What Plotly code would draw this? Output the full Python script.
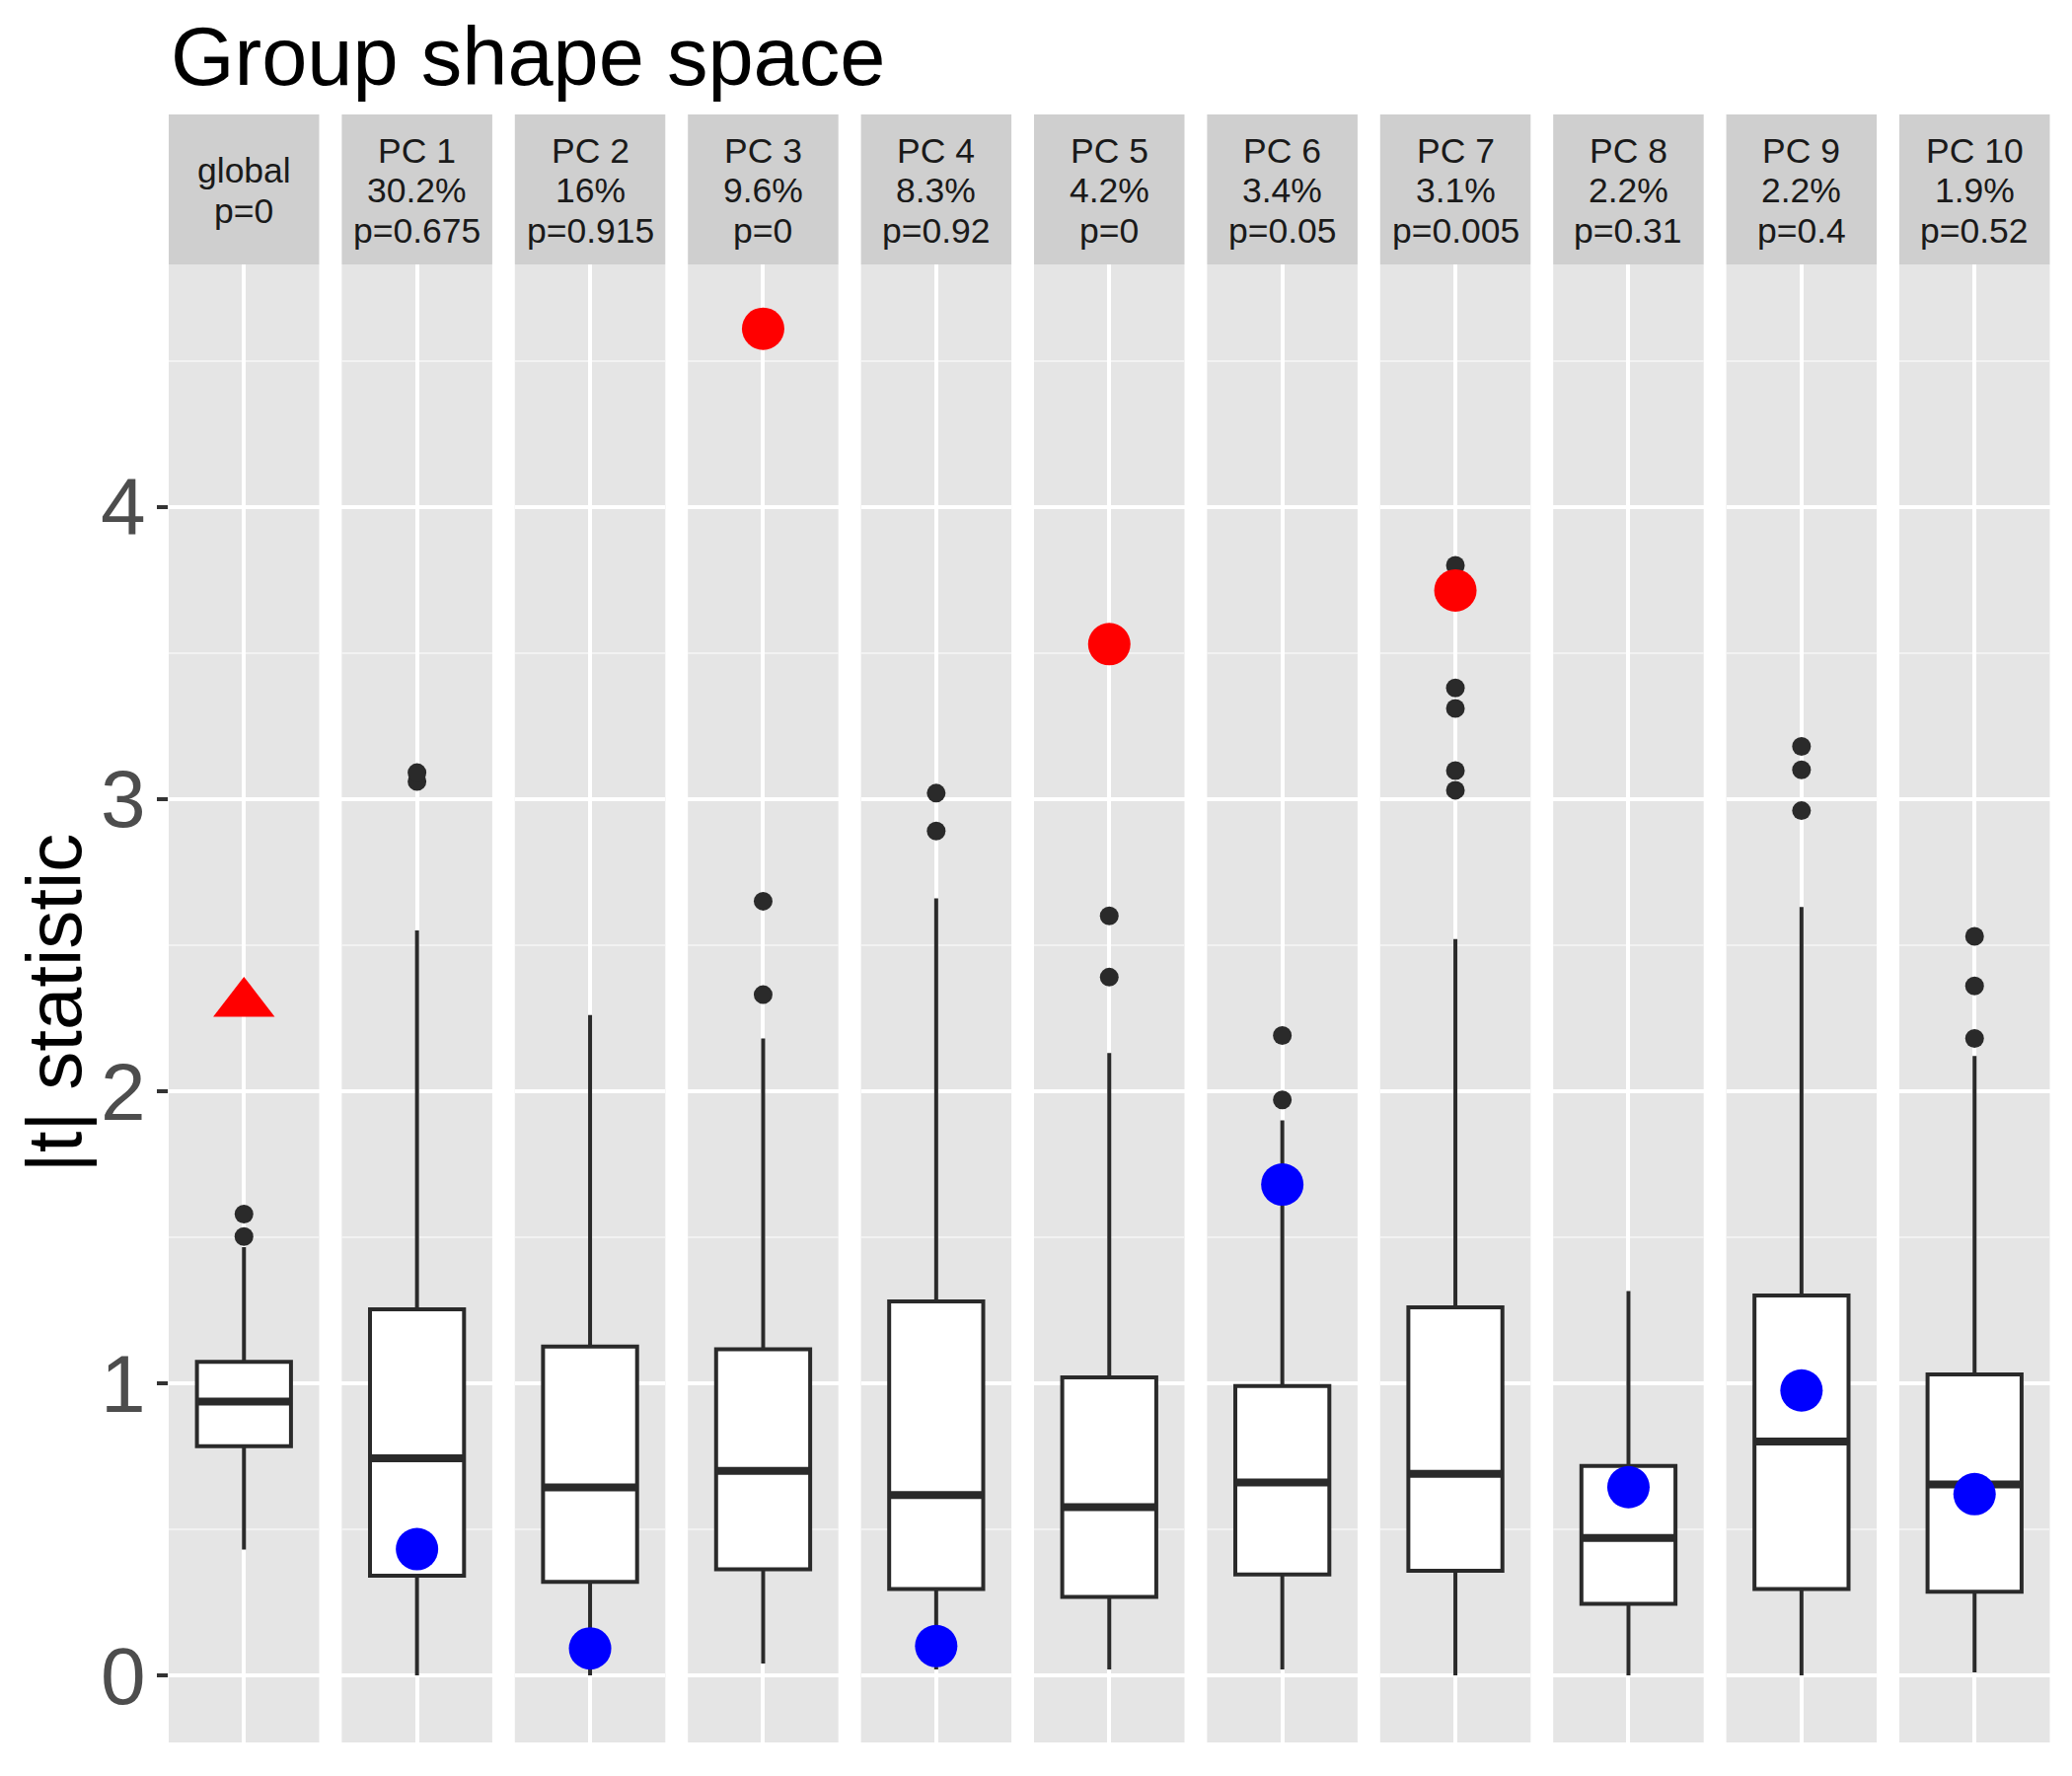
import plotly.graph_objects as go

# ---------------- data ----------------
panels = ["global", "PC 1", "PC 2", "PC 3", "PC 4", "PC 5", "PC 6", "PC 7", "PC 8", "PC 9", "PC 10"]
variance = ["", "30.2%", "16%", "9.6%", "8.3%", "4.2%", "3.4%", "3.1%", "2.2%", "2.2%", "1.9%"]
pvalues = ["p=0", "p=0.675", "p=0.915", "p=0", "p=0.92", "p=0", "p=0.05", "p=0.005", "p=0.31", "p=0.4", "p=0.52"]

q1 = [0.784, 0.341, 0.320, 0.363, 0.295, 0.268, 0.345, 0.358, 0.245, 0.295, 0.286]
median = [0.937, 0.743, 0.643, 0.700, 0.617, 0.576, 0.660, 0.690, 0.470, 0.800, 0.653]
q3 = [1.073, 1.253, 1.125, 1.116, 1.280, 1.020, 0.990, 1.260, 0.717, 1.300, 1.030]
lower_whisker = [0.43, 0.0, 0.0, 0.04, 0.02, 0.02, 0.02, 0.0, 0.0, 0.0, 0.01]
upper_whisker = [1.466, 2.55, 2.26, 2.18, 2.66, 2.13, 1.90, 2.52, 1.315, 2.63, 2.12]
outliers = [
    [1.502, 1.579],
    [3.06, 3.09],
    [],
    [2.33, 2.65],
    [2.89, 3.02],
    [2.39, 2.60],
    [1.97, 2.19],
    [3.03, 3.097, 3.31, 3.38, 3.80],
    [],
    [2.96, 3.10, 3.18],
    [2.18, 2.36, 2.53],
]
observed = [2.30, 0.432, 0.092, 4.61, 0.10, 3.53, 1.68, 3.714, 0.644, 0.975, 0.62]
observed_color = ["red", "blue", "blue", "red", "blue", "red", "blue", "red", "blue", "blue", "blue"]
observed_symbol = ["triangle-up"] + ["circle"] * 10

y_ticks = [0, 1, 2, 3, 4]
y_range = [-0.23, 4.83]

# ---------------- layout helpers ----------------
W, H = 2100, 1800
OFF = 8  # page body margin
FONT = "Liberation Sans, Arial, Helvetica, sans-serif"
DARK = "#2A2A2A"

def fx(p):
    return (p - OFF) / W

def fy(p):
    return 1 - (p - OFF) / H

left0, pitch, pw = 171.0, 175.4, 152.5
panel_top, panel_bottom = 268.0, 1766.0
strip_top = 116.0

fig = go.Figure()
layout = dict(
    width=W, height=H, autosize=False,
    margin=dict(l=0, r=0, t=0, b=0),
    paper_bgcolor="white", plot_bgcolor="#E5E5E5",
    showlegend=False,
    font=dict(family=FONT),
)
shapes, annotations = [], []

for i, name in enumerate(panels):
    xa = "x" if i == 0 else f"x{i+1}"
    ya = "y" if i == 0 else f"y{i+1}"
    xkey = "xaxis" if i == 0 else f"xaxis{i+1}"
    ykey = "yaxis" if i == 0 else f"yaxis{i+1}"
    l = left0 + i * pitch
    r = l + pw
    layout[xkey] = dict(
        domain=[fx(l), fx(r)], range=[0.4, 1.6], anchor=ya,
        tickvals=[1], showticklabels=False, ticks="",
        showgrid=True, gridcolor="white", gridwidth=3.5,
        zeroline=False, showline=False, fixedrange=True,
    )
    layout[ykey] = dict(
        domain=[fy(panel_bottom), fy(panel_top)], range=y_range, anchor=xa,
        tickvals=y_ticks, showticklabels=(i == 0),
        ticks="outside" if i == 0 else "", ticklen=11, tickwidth=4, tickcolor="#333333",
        tickfont=dict(size=82, color="#4D4D4D", family=FONT),
        ticklabelstandoff=-5,
        showgrid=True, gridcolor="white", gridwidth=3.5,
        minor=dict(dtick=0.5, tick0=0, showgrid=True, gridcolor="#F2F2F2", gridwidth=1.8, ticks=""),
        zeroline=False, showline=False, fixedrange=True,
    )

    # box
    fig.add_trace(go.Box(
        x=[1], q1=[q1[i]], median=[median[i]], q3=[q3[i]],
        lowerfence=[lower_whisker[i]], upperfence=[upper_whisker[i]],
        width=0.75, whiskerwidth=0, fillcolor="white",
        line=dict(color=DARK, width=4), boxpoints=False,
        xaxis=xa, yaxis=ya, hoverinfo="skip",
    ))
    # thick median (ggplot fatten)
    fig.add_trace(go.Scatter(
        x=[1 - 0.375, 1 + 0.375], y=[median[i], median[i]], mode="lines",
        line=dict(color=DARK, width=8), xaxis=xa, yaxis=ya, hoverinfo="skip",
    ))
    # outliers
    if outliers[i]:
        fig.add_trace(go.Scatter(
            x=[1] * len(outliers[i]), y=outliers[i], mode="markers",
            marker=dict(color=DARK, size=19, line=dict(width=0)),
            xaxis=xa, yaxis=ya, hoverinfo="skip",
        ))
    # observed statistic
    fig.add_trace(go.Scatter(
        x=[1], y=[observed[i]], mode="markers",
        marker=dict(color=observed_color[i], symbol=observed_symbol[i],
                    size=54 if observed_symbol[i] != "circle" else 43, line=dict(width=0)),
        xaxis=xa, yaxis=ya, hoverinfo="skip",
    ))

    # strip
    shapes.append(dict(type="rect", xref="paper", yref="paper",
                       x0=fx(l), x1=fx(r), y0=fy(panel_top), y1=fy(strip_top),
                       fillcolor="#CFCFCF", line=dict(width=0), layer="below"))
    lines = [name, pvalues[i]] if variance[i] == "" else [name, variance[i], pvalues[i]]
    baselines = [185.5, 226.0] if len(lines) == 2 else [165.0, 205.5, 246.0]
    fs = 35.5
    for txt, bl in zip(lines, baselines):
        annotations.append(dict(
            text=txt, xref="paper", yref="paper", x=fx((l + r) / 2), y=fy(bl - 0.3465 * fs),
            xanchor="center", yanchor="middle", showarrow=False,
            font=dict(size=fs, color="#1A1A1A", family=FONT),
        ))

# title
tfs = 83
annotations.append(dict(
    text="Group shape space", xref="paper", yref="paper",
    x=fx(171), y=fy(86 - 0.3465 * tfs), xanchor="left", yanchor="middle",
    showarrow=False, font=dict(size=tfs, color="black", family=FONT),
))
# y axis title
annotations.append(dict(
    text="|t| statistic", xref="paper", yref="paper",
    x=fx(54.6), y=fy((panel_top + panel_bottom) / 2), xanchor="center", yanchor="middle",
    textangle=-90, showarrow=False, font=dict(size=78, color="black", family=FONT),
))

layout["shapes"] = shapes
layout["annotations"] = annotations
fig.update_layout(**layout)
fig.write_html("out.html")
